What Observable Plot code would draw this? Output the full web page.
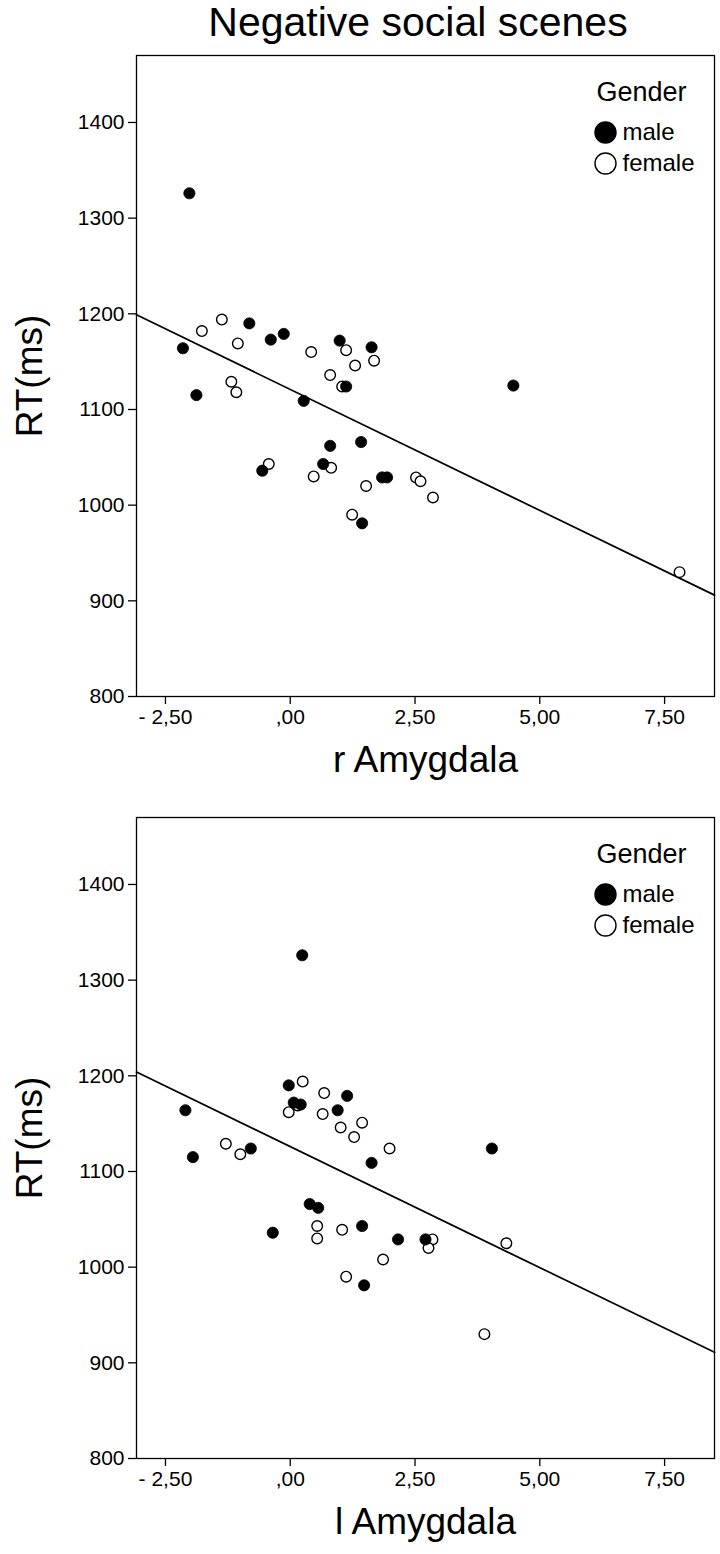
<!DOCTYPE html>
<html><head><meta charset="utf-8">
<script src="https://cdn.jsdelivr.net/npm/d3@7"></script>
<script src="https://cdn.jsdelivr.net/npm/@observablehq/plot@0.6"></script>
<style>
body{margin:0;background:#fff;font-family:"Liberation Sans",Arial,sans-serif;}
#wrap{position:relative;width:720px;height:1554px;overflow:hidden;}
#title{position:absolute;top:1px;left:418px;transform:translateX(-50%);font-size:41px;white-space:nowrap;line-height:42px;color:#000}
.panel{position:absolute;left:0}
</style></head><body>
<div id="wrap">
  <div id="title">Negative social scenes</div>
  <div id="p1" class="panel" style="top:45px"></div>
  <div id="p2" class="panel" style="top:807px"></div>
</div>
<script>
// ---- data ----
const genders = ["male", "female"];
const xTicks = [-2.5, 0, 2.5, 5, 7.5];
const xTickLabels = ["- 2,50", ",00", "2,50", "5,00", "7,50"];
const yTicks = [800, 900, 1000, 1100, 1200, 1300, 1400];
const xDomain = [-3.08, 8.5];
const yDomain = [800, 1470];
const yLabel = "RT(ms)";

// Panel 1: r Amygdala
const rMaleX  = [-2.02, -2.15, -1.88, -0.82, -0.39, -0.13, -0.56, 0.27, 0.66, 0.80, 0.99, 1.12, 1.42, 1.44, 1.63, 1.84, 1.94, 4.47];
const rMaleRT = [1326, 1164, 1115, 1190, 1173, 1179, 1036, 1109, 1043, 1062, 1172, 1124, 1066, 981, 1165, 1029, 1029, 1125];
const rFemaleX  = [-1.77, -1.37, -1.18, -1.08, -1.05, -0.43, 0.42, 0.47, 0.82, 0.80, 1.12, 1.04, 1.30, 1.24, 1.52, 1.68, 2.52, 2.61, 2.86, 7.80];
const rFemaleRT = [1182, 1194, 1129, 1118, 1169, 1043, 1160, 1030, 1039, 1136, 1162, 1124, 1146, 990, 1020, 1151, 1029, 1025, 1008, 930];
const rFit = {intercept: 1121, slope: -25.3};

// Panel 2: l Amygdala
const lMaleX  = [0.24, -2.10, -1.95, -0.79, -0.03, 0.07, 0.21, 1.14, 0.95, 1.63, 0.39, 0.56, -0.35, 1.44, 2.16, 2.71, 4.04, 1.48];
const lMaleRT = [1326, 1164, 1115, 1124, 1190, 1172, 1170, 1179, 1164, 1109, 1066, 1062, 1036, 1043, 1029, 1029, 1124, 981];
const lFemaleX  = [-1.29, -1.00, 0.25, -0.03, 0.68, 0.65, 1.01, 1.44, 1.28, 1.99, 0.54, 0.54, 1.04, 2.85, 2.77, 1.86, 1.12, 4.33, 3.89, 0.15];
const lFemaleRT = [1129, 1118, 1194, 1162, 1182, 1160, 1146, 1151, 1136, 1124, 1043, 1030, 1039, 1029, 1020, 1008, 990, 1025, 930, 1169];
const lFit = {intercept: 1126, slope: -25.3};

const FONT = '"Liberation Sans", Arial, sans-serif';

function panel(xLabel, maleX, maleRT, femaleX, femaleRT, fit) {
  const male = maleX.map((x, i) => ({x, rt: maleRT[i]}));
  const female = femaleX.map((x, i) => ({x, rt: femaleRT[i]}));
  const fitLine = xDomain.map(x => ({x, rt: fit.intercept + fit.slope * x}));
  const legendMarks = genders.flatMap((g, i) => [
    Plot.dot([g], {frameAnchor: "top-right", dx: -109, dy: 77 + 31 * i, r: 10.5,
      fill: i === 0 ? "black" : "white", stroke: "black", strokeWidth: 1.4}),
    Plot.text([g], {frameAnchor: "top-right", dx: -92, dy: 77 + 31 * i, text: d => d,
      textAnchor: "start", lineAnchor: "middle", fontSize: 24, fill: "black"})
  ]);
  return Plot.plot({
    width: 720, height: 741,
    marginLeft: 136, marginRight: 6, marginTop: 10, marginBottom: 90,
    style: {fontFamily: FONT, color: "black", background: "white", overflow: "visible"},
    x: {domain: xDomain},
    y: {domain: yDomain},
    marks: [
      Plot.frame({stroke: "black", strokeWidth: 1.3}),
      Plot.axisY(yTicks, {tickSize: 8, tickPadding: 4, fontSize: 21, label: null, tickFormat: d => String(d), strokeWidth: 1.3}),
      Plot.axisX(xTicks, {tickSize: 8, tickPadding: 5, fontSize: 21, label: null, tickFormat: d => xTickLabels[xTicks.indexOf(d)], strokeWidth: 1.3}),
      Plot.line(fitLine, {x: "x", y: "rt", stroke: "black", strokeWidth: 1.7}),
      Plot.dot(female, {x: "x", y: "rt", r: 5.3, fill: "white", stroke: "black", strokeWidth: 1.4}),
      Plot.dot(male, {x: "x", y: "rt", r: 5.6, fill: "black", stroke: "black", strokeWidth: 0.8}),
      Plot.text(["Gender"], {frameAnchor: "top-right", dx: -73, dy: 37, text: d => d,
        textAnchor: "middle", lineAnchor: "middle", fontSize: 27, fill: "black"}),
      ...legendMarks,
      Plot.text([yLabel], {frameAnchor: "left", dx: -106, rotate: -90, text: d => d,
        textAnchor: "middle", lineAnchor: "middle", fontSize: 37, fill: "black"}),
      Plot.text([xLabel], {frameAnchor: "bottom", dy: 64, text: d => d,
        textAnchor: "middle", lineAnchor: "middle", fontSize: 37, fill: "black"})
    ]
  });
}

document.getElementById("p1").appendChild(panel("r Amygdala", rMaleX, rMaleRT, rFemaleX, rFemaleRT, rFit));
document.getElementById("p2").appendChild(panel("l Amygdala", lMaleX, lMaleRT, lFemaleX, lFemaleRT, lFit));
</script>
</body></html>
